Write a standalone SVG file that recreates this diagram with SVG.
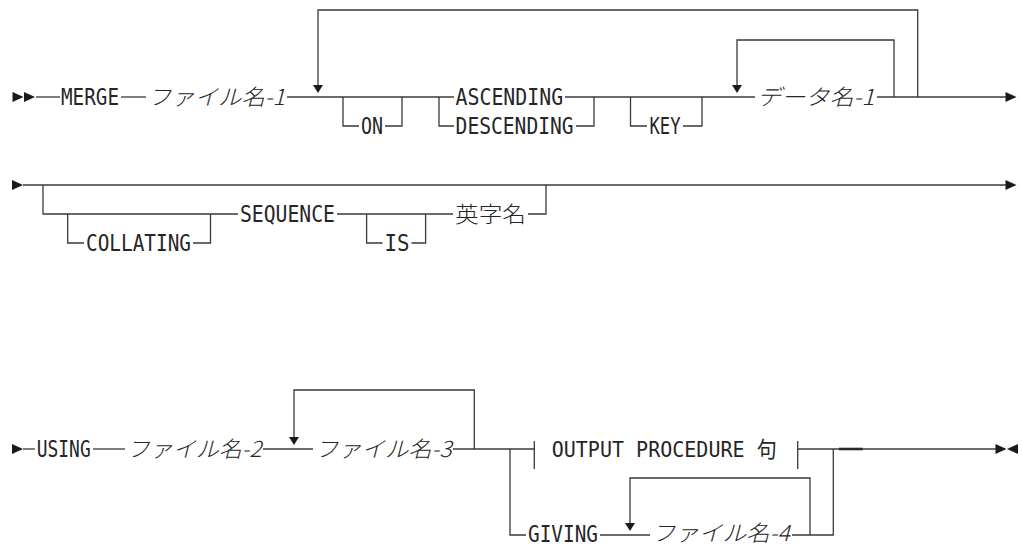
<svg xmlns="http://www.w3.org/2000/svg" width="1022" height="544" viewBox="0 0 1022 544">
<defs>
<style>
.ln{fill:none;stroke:#3a3a3a;stroke-width:1.3}
.thick{fill:none;stroke:#2a2a2a;stroke-width:2.6}
.kw{font-family:"DejaVu Sans Mono","Liberation Mono",monospace;font-size:22.5px;fill:#262626}
.jp{font-family:"Noto Sans CJK JP",sans-serif;font-size:22px;font-weight:300;fill:#262626;font-style:italic}
.jpn{font-family:"Noto Sans CJK JP",sans-serif;font-size:22px;font-weight:300;fill:#262626}
.op{font-family:"DejaVu Sans Mono","Liberation Mono","Noto Sans CJK JP",monospace;font-size:22px;fill:#262626}
.ar{fill:#1a1a1a}
</style>
<path id="rt" d="M0,-5 L11,0 L0,5 Z"/>
<path id="lt" d="M11,-5 L0,0 L11,5 Z"/>
<path id="dn" d="M-5,-8 L5,-8 L0,0 Z"/>
</defs>
<rect width="1022" height="544" fill="#ffffff"/>

<g id="connectors">
<!-- row 1 -->
<path class="ln" d="M36,97 H60"/>
<path class="ln" d="M121,97 H146"/>
<path class="ln" d="M287,97 H454"/>
<path class="ln" d="M917.7,97 V10 H318 V85"/>
<path class="ln" d="M343,97 V126 H359"/>
<path class="ln" d="M385,126 H402 V97"/>
<path class="ln" d="M439,97 V126 H454"/>
<path class="ln" d="M565,97 H755"/>
<path class="ln" d="M576,126 H594 V97"/>
<path class="ln" d="M630.5,97 V126 H647"/>
<path class="ln" d="M683,126 H702 V97"/>
<path class="ln" d="M894,97 V40 H737 V85"/>
<path class="ln" d="M877,97 H1006"/>
<use href="#rt" class="ar" x="12.5" y="97"/>
<use href="#rt" class="ar" x="24" y="97"/>
<use href="#dn" class="ar" x="318" y="93"/>
<use href="#dn" class="ar" x="737" y="93"/>
<use href="#rt" class="ar" x="1005.5" y="97"/>
<!-- row 2 -->
<path class="ln" d="M23,185 H1006"/>
<path class="ln" d="M43,185 V214 H238"/>
<path class="ln" d="M67.7,214 V243 H84"/>
<path class="ln" d="M193,243 H210.5 V214"/>
<path class="ln" d="M337,214 H453"/>
<path class="ln" d="M366.6,214 V243 H382.5"/>
<path class="ln" d="M411.5,243 H425.6 V214"/>
<path class="ln" d="M528,214 H546 V185"/>
<use href="#rt" class="ar" x="12" y="185"/>
<use href="#rt" class="ar" x="1005.5" y="185"/>
<!-- row 3 -->
<path class="ln" d="M23,449 H35"/>
<path class="ln" d="M93,449 H125"/>
<path class="ln" d="M263,449 H313"/>
<path class="ln" d="M474.3,449 V390 H294 V437"/>
<path class="ln" d="M453,449 H534.3"/>
<path class="ln" d="M534.3,441 V469"/>
<path class="ln" d="M797.7,441 V469"/>
<path class="ln" d="M797.7,449 H996"/>
<path class="thick" d="M839,449 H862.7"/>
<path class="ln" d="M792,535 H833.3 V449"/>
<path class="ln" d="M510,449 V535 H526"/>
<path class="ln" d="M600,535 H650"/>
<path class="ln" d="M810,535 V478 H630 V523"/>
<use href="#rt" class="ar" x="12" y="449"/>
<use href="#dn" class="ar" x="294" y="445"/>
<use href="#dn" class="ar" x="630" y="531"/>
<use href="#rt" class="ar" x="995.5" y="449"/>
<use href="#lt" class="ar" x="1007" y="449"/>
</g>

<g id="n-merge"><text class="kw" x="61" y="104.5" textLength="58" lengthAdjust="spacingAndGlyphs">MERGE</text></g>
<g id="n-file1"><text class="jp" x="148" y="104.5" textLength="137" lengthAdjust="spacingAndGlyphs">ファイル名-1</text></g>
<g id="n-on"><text class="kw" x="361" y="133.5" textLength="22" lengthAdjust="spacingAndGlyphs">ON</text></g>
<g id="n-ascending"><text class="kw" x="455.6" y="104.5" textLength="107.5" lengthAdjust="spacingAndGlyphs">ASCENDING</text></g>
<g id="n-descending"><text class="kw" x="455.6" y="133.5" textLength="118" lengthAdjust="spacingAndGlyphs">DESCENDING</text></g>
<g id="n-key"><text class="kw" x="649.5" y="133.5" textLength="31" lengthAdjust="spacingAndGlyphs">KEY</text></g>
<g id="n-data1"><text class="jp" x="757" y="104.5" textLength="117.5" lengthAdjust="spacingAndGlyphs">データ名-1</text></g>

<g id="n-collating"><text class="kw" x="86" y="250.5" textLength="105" lengthAdjust="spacingAndGlyphs">COLLATING</text></g>
<g id="n-sequence"><text class="kw" x="240" y="221.5" textLength="95" lengthAdjust="spacingAndGlyphs">SEQUENCE</text></g>
<g id="n-is"><text class="kw" x="384.6" y="250.5" textLength="25" lengthAdjust="spacingAndGlyphs">IS</text></g>
<g id="n-alpha"><text class="jpn" x="455" y="221.5" textLength="71" lengthAdjust="spacingAndGlyphs">英字名</text></g>

<g id="n-using"><text class="kw" x="36.7" y="456.5" textLength="54" lengthAdjust="spacingAndGlyphs">USING</text></g>
<g id="n-file2"><text class="jp" x="126.7" y="456.5" textLength="135" lengthAdjust="spacingAndGlyphs">ファイル名-2</text></g>
<g id="n-file3"><text class="jp" x="315" y="456.5" textLength="136.7" lengthAdjust="spacingAndGlyphs">ファイル名-3</text></g>
<g id="n-output"><text class="op" x="551.7" y="456.5" textLength="225" lengthAdjust="spacingAndGlyphs">OUTPUT PROCEDURE 句</text></g>
<g id="n-giving"><text class="kw" x="528" y="541.5" textLength="70" lengthAdjust="spacingAndGlyphs">GIVING</text></g>
<g id="n-file4"><text class="jp" x="651.7" y="540.5" textLength="138.3" lengthAdjust="spacingAndGlyphs">ファイル名-4</text></g>
</svg>
